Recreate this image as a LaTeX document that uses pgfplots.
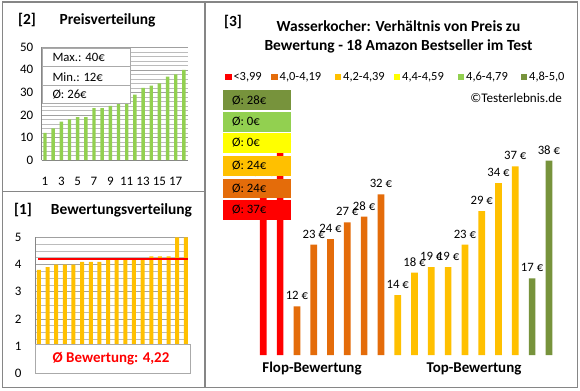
\documentclass[border=0pt]{standalone}
\usepackage{pgfplots}
\pgfplotsset{compat=1.18}
\usepackage{fontspec}
\setmainfont{Carlito}
\definecolor{cred}{RGB}{255,0,0}
\definecolor{corange}{RGB}{228,108,10}
\definecolor{cgold}{RGB}{255,192,0}
\definecolor{cyellow}{RGB}{255,255,0}
\definecolor{clgreen}{RGB}{146,208,80}
\definecolor{cdgreen}{RGB}{119,147,60}
\definecolor{cborder}{RGB}{134,134,134}
\definecolor{cgrid}{RGB}{160,160,160}
\newcommand{\fs}[1]{\fontsize{#1}{#1}\selectfont}
\begin{document}
\begin{tikzpicture}[x=1bp,y=1bp]
\useasboundingbox (0,0) rectangle (580,390);
\fill[white] (0,0) rectangle (580,390);
% panel borders
\draw[cborder,line width=1.2bp] (2.5,2.7) rectangle (577.7,388);
\draw[cborder,line width=1.2bp] (205,2.7) -- (205,388);
\draw[cborder,line width=1.2bp] (2.5,198.3) -- (205,198.3);

% ---------- Panel [2] Preisverteilung ----------
\node[font=\bfseries\fs{15.5}] at (27,370) {[2]};
\node[font=\bfseries\fs{15.5}] at (107.5,370) {Preisverteilung};
\begin{axis}[at={(41.7bp,230bp)},anchor=south west,scale only axis,
  width=146.3bp,height=112.7bp,
  xmin=0.6,xmax=18.5,ymin=0,ymax=50,
  ytick={0,10,...,50},xtick={1,3,...,17},
  minor y tick num=4,ymajorgrids,yminorgrids,
  major grid style={cgrid,line width=0.6bp},minor grid style={cgrid!70,line width=0.5bp},
  axis x line*=bottom,axis y line*=left,
  axis line style={cborder,line width=0.8bp},
  tick style={draw=none},
  /pgf/number format/assume math mode=true,
  ticklabel style={font=\fs{13}},
  yticklabel style={xshift=-5bp},
  xticklabel style={yshift=-9bp},
  ybar,bar width=3.4bp]
\addplot[fill=clgreen,draw=none] coordinates {
(1,12) (2,14) (3,17) (4,18) (5,19) (6,19) (7,23) (8,23) (9,24) (10,27) (11,28) (12,29) (13,32) (14,33) (15,34) (16,37) (17,38) (18,40)};
\end{axis}
\filldraw[fill=white,draw=cborder!70,line width=0.7bp] (42,287) rectangle (130,342);
\draw[cborder!70,line width=0.7bp] (42,323.3) -- (130,323.3) (42,305) -- (130,305);
\node[anchor=west,font=\fs{12.8}] at (49,332.3) {Max.: 40€};
\node[anchor=west,font=\fs{12.8}] at (49,313) {Min.: 12€};
\node[anchor=west,font=\fs{12.8}] at (49,295) {Ø: 26€};

% ---------- Panel [1] Bewertungsverteilung ----------
\node[font=\bfseries\fs{15.5}] at (23,180) {[1]};
\node[font=\bfseries\fs{15.5}] at (121.5,180) {Bewertungsverteilung};
\begin{axis}[at={(35bp,16.7bp)},anchor=south west,scale only axis,
  width=153bp,height=136bp,
  xmin=0.55,xmax=18.25,ymin=0,ymax=5,
  ytick={0,1,...,5},xtick=\empty,
  minor y tick num=3,ymajorgrids,yminorgrids,
  major grid style={cgrid,line width=0.6bp},minor grid style={cgrid!70,line width=0.5bp},
  axis x line*=bottom,axis y line*=left,
  axis line style={cborder,line width=0.8bp},
  tick style={draw=none},
  /pgf/number format/assume math mode=true,
  ticklabel style={font=\fs{13}},
  yticklabel style={xshift=-10bp}]
\addplot[ybar,bar width=4bp,fill=cgold,draw=none] coordinates {
(1,3.8) (2,3.9) (3,4.0) (4,4.0) (5,4.0) (6,4.1) (7,4.1) (8,4.1) (9,4.2) (10,4.2) (11,4.2) (12,4.2) (13,4.2) (14,4.3) (15,4.3) (16,4.3) (17,5.0) (18,5.0)};
\addplot[cred,line width=2.6bp] coordinates {(0.9,4.2) (18.25,4.2)};
\end{axis}
\filldraw[fill=white,draw=cborder!70,line width=0.7bp] (35,17) rectangle (190,46);
\node[font=\bfseries\fs{15},text=cred] at (111,31.5) {Ø Bewertung: 4,22};

% ---------- Panel [3] ----------
\node[font=\bfseries\fs{15.5}] at (233,368) {[3]};
\node[font=\bfseries\fs{15.5}] at (398.5,364) {Wasserkocher: Verhältnis von Preis zu};
\node[font=\bfseries\fs{15.5}] at (398.5,344) {Bewertung - 18 Amazon Bestseller im Test};
\begin{axis}[at={(254.9bp,35bp)},anchor=south west,scale only axis,
  width=302.4bp,height=249.2bp,
  xmin=0.5,xmax=18.5,ymin=3.3,ymax=47.8,
  hide axis,
  ybar,bar width=6.7bp,bar shift=0pt,
  /pgf/number format/assume math mode=true,
  nodes near coords={\pgfmathprintnumber{\pgfplotspointmeta}~€},
  every node near coord/.append style={font=\fs{12.8},text=black,yshift=3bp}]
\addplot[fill=cred,draw=none,bar shift=0pt] coordinates {(1,34) (2,40)};
\addplot[fill=corange,draw=none,bar shift=0pt] coordinates {(3,12) (4,23) (5,24) (6,27) (7,28) (8,32)};
\addplot[fill=cgold,draw=none,bar shift=0pt] coordinates {(9,14) (10,18) (11,19) (12,19) (13,23) (14,29) (15,34) (16,37)};
\addplot[fill=cdgreen,draw=none,bar shift=0pt] coordinates {(17,17) (18,38)};
\end{axis}
\node[font=\bfseries\fs{15}] at (312,21) {Flop-Bewertung};
\node[font=\bfseries\fs{15}] at (474,21) {Top-Bewertung};
% legend
\foreach \cx/\col/\lab in {228.3/cred/{<3,99},274.5/corange/{4,0-4,19},338/cgold/{4,2-4,39},397/cyellow/{4,4-4,59},461/clgreen/{4,6-4,79},524/cdgreen/{4,8-5,0}}{
  \fill[\col] (\cx-3.4,309.6) rectangle (\cx+3.4,316.4);
  \node[anchor=west,font=\fs{12.5},inner sep=0pt] at (\cx+5,313) {\lab};
}
\node[anchor=east,font=\fs{13.2},inner sep=0pt] at (562,292) {©Testerlebnis.de};
% average boxes
\foreach \yt/\yb/\col/\lab in {90/110/cdgreen/{Ø: 28€},112/132/clgreen/{Ø: 0€},133/153/cyellow/{Ø: 0€},156/176/cgold/{Ø: 24€},179/198/corange/{Ø: 24€},200/220/cred/{Ø: 37€}}{
  \fill[\col] (223,390-\yt) rectangle (291,390-\yb);
  \node[anchor=west,font=\fs{12.8},inner sep=0pt] at (232,390-\yt/2-\yb/2) {\lab};
}
\end{tikzpicture}
\end{document}
